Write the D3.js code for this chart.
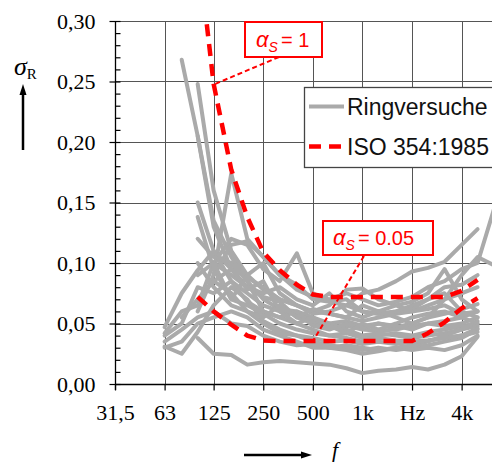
<!DOCTYPE html>
<html><head><meta charset="utf-8">
<script src="https://cdn.jsdelivr.net/npm/d3@7"></script>
<style>body{margin:0;background:#fff} svg{display:block}</style>
</head><body>
<script>
// third-octave band centre frequencies (Hz)
const freqs = [63,80,100,125,160,200,250,315,400,500,630,800,1000,1250,1600,2000,2500,3150,4000,5000,6300];
const xTickValues = [31.5,63,125,250,500,1000,2000,4000];
const xTickLabels = ["31,5","63","125","250","500","1k","Hz","4k"];
const yTickValues = [0,0.05,0.10,0.15,0.20,0.25,0.30];
const yTickLabels = ["0,00","0,05","0,10","0,15","0,20","0,25","0,30"];
const yMinorTicks = d3.range(0,31).map(i=>i/100);

// ISO 354:1985 limits
const isoAlpha1   = [null,null,0.363,0.248,0.177,0.138,0.109,0.094,0.082,0.074,0.072,0.072,0.072,0.072,0.072,0.072,0.072,0.072,0.077,0.086,null];
const isoAlpha005 = [null,null,0.072,0.060,0.049,0.040,0.036,0.0355,0.0355,0.0355,0.0355,0.0355,0.0355,0.0355,0.0355,0.0355,0.042,0.051,0.0625,0.071,null];

// Ringversuche (round robin results)
const r01 = [null,0.268,0.205,0.135,0.105,0.085,0.070,0.062,0.060,0.055,0.050,0.052,0.048,0.050,0.047,0.050,0.055,0.058,0.062,0.066,null];
const r02 = [null,null,0.248,0.160,0.110,0.090,0.078,0.070,0.065,0.060,0.058,0.055,0.052,0.055,0.058,0.060,0.065,0.070,0.075,0.080,null];
const r03 = [null,null,0.205,0.130,0.095,0.080,0.072,0.068,0.055,0.050,0.046,0.048,0.045,0.044,0.045,0.048,0.050,0.052,0.055,0.060,null];
const r04 = [null,null,0.060,0.090,0.174,0.120,0.105,0.090,0.078,0.072,0.070,0.075,0.070,0.065,0.068,0.072,0.080,0.085,0.095,0.100,0.145];
const r05 = [null,null,0.038,0.025,0.024,0.016,0.018,0.019,0.018,0.017,0.016,0.013,0.009,0.011,0.012,0.014,0.012,0.016,0.023,0.039,null];
const r06 = [0.047,0.075,0.094,0.110,0.095,0.088,0.080,0.070,0.065,0.058,0.060,0.065,0.075,0.078,0.085,0.093,0.096,0.101,0.115,0.128,null];
const r07 = [0.040,0.050,0.080,0.075,0.085,0.068,0.060,0.055,0.050,0.045,0.040,0.042,0.038,0.040,0.042,0.040,0.043,0.045,0.048,0.050,null];
const r08 = [0.031,0.025,0.043,0.065,0.080,0.070,0.052,0.045,0.040,0.035,0.032,0.030,0.028,0.030,0.028,0.030,0.032,0.035,0.038,0.045,null];
const r09 = [0.042,0.060,0.065,0.100,0.120,0.115,0.095,0.085,0.108,0.075,0.068,0.065,0.060,0.058,0.060,0.062,0.070,0.075,0.060,0.055,null];
const r10 = [0.030,0.035,0.050,0.055,0.060,0.055,0.045,0.040,0.035,0.030,0.030,0.028,0.025,0.027,0.030,0.028,0.030,0.028,0.032,0.040,null];
const r11 = [null,null,0.150,0.110,0.085,0.075,0.065,0.060,0.058,0.052,0.050,0.045,0.040,0.042,0.040,0.038,0.040,0.042,0.045,0.048,null];
const r12 = [null,null,0.138,0.095,0.070,0.065,0.058,0.050,0.045,0.042,0.040,0.038,0.035,0.038,0.036,0.035,0.036,0.038,0.040,0.046,null];
const r13 = [null,null,null,0.090,0.115,0.118,0.105,0.090,0.082,0.070,0.068,0.070,0.060,0.058,0.060,0.065,0.070,0.080,0.082,0.090,null];
const r14 = [0.035,0.045,0.055,0.060,0.050,0.048,0.040,0.035,0.032,0.033,0.030,0.032,0.030,0.028,0.030,0.032,0.035,0.040,0.045,0.052,null];
const r15 = [null,null,0.090,0.100,0.090,0.080,0.075,0.080,0.070,0.065,0.075,0.060,0.055,0.060,0.055,0.050,0.055,0.070,0.090,0.105,0.098];
const r16 = [null,null,null,0.100,0.070,0.090,0.100,0.075,0.065,0.060,0.065,0.078,0.079,0.070,0.065,0.068,0.075,0.095,0.070,0.060,null];
const r17 = [null,null,0.120,0.105,0.100,0.085,0.060,0.055,0.060,0.048,0.045,0.050,0.046,0.050,0.048,0.045,0.050,0.048,0.050,0.055,null];
const r18 = [null,0.055,0.070,0.085,0.075,0.060,0.050,0.042,0.040,0.038,0.035,0.036,0.033,0.035,0.033,0.035,0.036,0.038,0.040,0.043,null];
const r19 = [null,null,0.100,0.080,0.065,0.060,0.055,0.065,0.055,0.062,0.058,0.055,0.065,0.060,0.065,0.060,0.062,0.065,0.058,0.060,null];
const r20 = [null,null,null,0.085,0.095,0.078,0.085,0.060,0.050,0.055,0.048,0.042,0.050,0.045,0.050,0.055,0.058,0.060,0.055,0.050,null];
const ringSeries = [r01,r02,r03,r04,r05,r06,r07,r08,r09,r10,r11,r12,r13,r14,r15,r16,r17,r18,r19,r20];

const W = 492, H = 462;
const L = 115, T = 21, B = 384, R = 492;
const x = d3.scaleLog().domain([31.5, 31.5*128]).range([L, L + 49.6*7]);
const y = d3.scaleLinear().domain([0, 0.30]).range([B, T]);

const svg = d3.select("body").append("svg").attr("width", W).attr("height", H);
const defs = svg.append("defs");
defs.append("clipPath").attr("id","plot").append("rect").attr("x",L).attr("y",T).attr("width",R-L+5).attr("height",B-T);

// grid
const grid = svg.append("g").attr("stroke","#555").attr("stroke-width",1);
grid.selectAll("line.v").data(xTickValues.slice(1)).join("line")
  .attr("x1",d=>Math.round(x(d))+0.5).attr("x2",d=>Math.round(x(d))+0.5).attr("y1",T).attr("y2",B);
grid.selectAll("line.h").data(yTickValues.slice(1)).join("line")
  .attr("x1",L).attr("x2",R).attr("y1",d=>Math.round(y(d))+0.5).attr("y2",d=>Math.round(y(d))+0.5);

const serif = "'Liberation Serif','Times New Roman',serif";
const sans = "'Liberation Sans',Arial,sans-serif";

// axes
const yAxis = svg.append("g").attr("transform",`translate(${L+0.5},0)`)
  .call(d3.axisLeft(y).tickValues(yTickValues).tickFormat((d,i)=>yTickLabels[i]).tickSize(6).tickPadding(14));
const yMinor = svg.append("g").attr("transform",`translate(${L+0.5},0)`)
  .call(d3.axisRight(y).tickValues(yMinorTicks).tickFormat("").tickSize(5));
yMinor.select(".domain").remove();
const xAxis = svg.append("g").attr("transform",`translate(0,${B+0.5})`)
  .call(d3.axisBottom(x).tickValues(xTickValues).tickFormat((d,i)=>xTickLabels[i]).tickSize(6).tickPadding(14));
[yAxis,xAxis,yMinor].forEach(g=>{
  g.selectAll("path.domain").attr("stroke","#000").attr("stroke-width",1.3);
  g.selectAll(".tick line").attr("stroke","#000").attr("stroke-width",1.2);
  g.selectAll("text").attr("font-family",serif).attr("font-size",22).attr("fill","#000");
});
xAxis.select("path.domain").attr("d",`M${L},0H${R}`);
yAxis.select("path.domain").attr("d",`M0,${B+6}V${T}`);

// data
const plot = svg.append("g").attr("clip-path","url(#plot)");
const line = d3.line().defined(d=>d[1]!=null).x(d=>x(d[0])).y(d=>y(d[1]));
plot.selectAll("path.ring").data(ringSeries).join("path")
  .attr("class","ring")
  .attr("d",s=>line(freqs.map((f,i)=>[f,s[i]])))
  .attr("fill","none").attr("stroke","#aaaaaa").attr("stroke-width",4)
  .attr("stroke-linejoin","round").attr("stroke-linecap","round");
plot.selectAll("path.iso").data([isoAlpha1, isoAlpha005]).join("path")
  .attr("class","iso")
  .attr("d",s=>line(freqs.map((f,i)=>[f,s[i]])))
  .attr("fill","none").attr("stroke","#ff0000").attr("stroke-width",4.5)
  .attr("stroke-dasharray","12,8").attr("stroke-linejoin","round");

// annotations
function annot(bx,by,bw,bh,tx,ty,rest,lx1,ly1,lx2,ly2){
  svg.append("line").attr("x1",lx1).attr("y1",ly1).attr("x2",lx2).attr("y2",ly2)
    .attr("stroke","#ff0000").attr("stroke-width",2).attr("stroke-dasharray","5,3");
  svg.append("rect").attr("x",bx).attr("y",by).attr("width",bw).attr("height",bh)
    .attr("fill","#fff").attr("stroke","#ff0000").attr("stroke-width",2);
  const t = svg.append("text").attr("x",tx).attr("y",ty).attr("fill","#ff0000")
    .attr("font-family",sans).attr("font-size",20);
  t.append("tspan").attr("font-style","italic").attr("font-size",22).text("α");
  t.append("tspan").attr("font-style","italic").attr("font-size",14).attr("dy",5).text("S");
  t.append("tspan").attr("dy",-5).attr("dx",3).text(rest);
}
annot(245,22,77,35,256,47,"= 1", 279,57,215,84);
annot(323,221,110,34,333,245,"= 0.05", 364,256,313,341);

// legend
const lg = svg.append("g");
lg.append("rect").attr("x",304.5).attr("y",87.5).attr("width",200).attr("height",80)
  .attr("fill","#fff").attr("stroke","#444").attr("stroke-width",1.3);
lg.append("line").attr("x1",309).attr("x2",344).attr("y1",106.5).attr("y2",106.5)
  .attr("stroke","#aaaaaa").attr("stroke-width",4);
lg.append("line").attr("x1",309).attr("x2",344).attr("y1",146.5).attr("y2",146.5)
  .attr("stroke","#ff0000").attr("stroke-width",4.5).attr("stroke-dasharray","12,8");
lg.append("text").attr("x",347).attr("y",115).attr("font-family",sans).attr("font-size",23).attr("fill","#111").text("Ringversuche");
lg.append("text").attr("x",347).attr("y",155).attr("font-family",sans).attr("font-size",23).attr("fill","#111").text("ISO 354:1985");

// axis titles with arrows
const yl = svg.append("text").attr("x",14).attr("y",75).attr("font-family",serif).attr("fill","#000");
yl.append("tspan").attr("font-style","italic").attr("font-size",26).text("σ");
yl.append("tspan").attr("font-size",15).attr("dy",4).text("R");
svg.append("line").attr("x1",23).attr("x2",23).attr("y1",150).attr("y2",92).attr("stroke","#000").attr("stroke-width",2.5);
svg.append("path").attr("d","M23,84 L19.5,95 L26.5,95 Z").attr("fill","#000");
svg.append("line").attr("x1",244).attr("x2",304).attr("y1",455).attr("y2",455).attr("stroke","#000").attr("stroke-width",2.5);
svg.append("path").attr("d","M312,455 L301,451.5 L301,458.5 Z").attr("fill","#000");
svg.append("text").attr("x",332).attr("y",457).attr("font-family",serif).attr("font-style","italic").attr("font-size",22).attr("fill","#000").text("f");
</script>
</body></html>
